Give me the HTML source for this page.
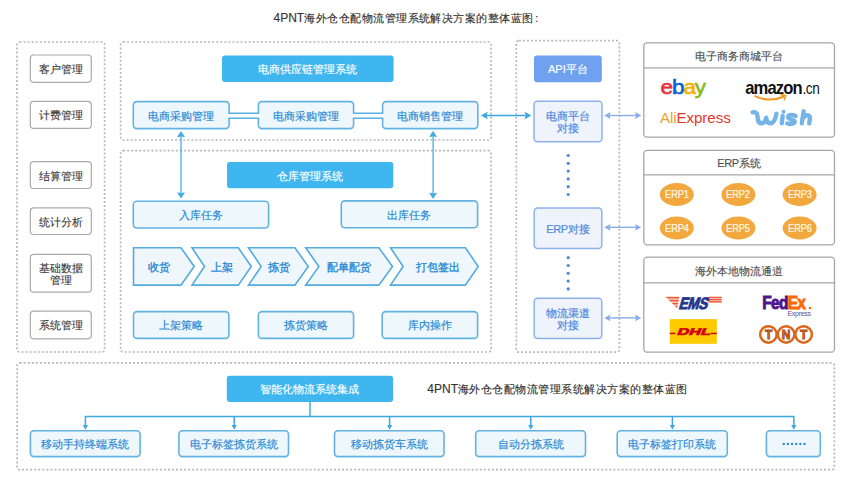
<!DOCTYPE html>
<html><head><meta charset="utf-8">
<style>
html,body{margin:0;padding:0;background:#fff;}
body{width:850px;height:481px;position:relative;overflow:hidden;font-family:"Liberation Sans",sans-serif;}
.a{position:absolute;box-sizing:border-box;display:flex;align-items:center;justify-content:center;text-align:center;white-space:nowrap;font-size:11px;line-height:13px;padding-top:2px;}
.g{color:#3a3a3a;-webkit-text-stroke:0.12px #3a3a3a;}
.b{color:#2a8ad4;-webkit-text-stroke:0.18px #2a8ad4;}
.h{color:#fff;-webkit-text-stroke:0.15px #fff;}
.p{color:#5189de;line-height:12.5px;-webkit-text-stroke:0.2px #5189de;}
.t{position:absolute;white-space:nowrap;}
.hd{text-align:center;color:#505050;font-size:11px;line-height:14px;-webkit-text-stroke:0.15px #505050;}
.erp{width:40px;text-align:center;color:#fffaf0;font-size:10.8px;line-height:14px;letter-spacing:-0.1px;transform:scaleX(0.86);-webkit-text-stroke:0.2px #fffaf0;}
.ct{text-align:center;color:#2a8ad4;font-size:11px;line-height:16px;-webkit-text-stroke:0.35px #2a8ad4;}
.ttl{font-size:11px;color:#333;line-height:14px;-webkit-text-stroke:0.15px #333;}
svg{position:absolute;left:0;top:0;}
</style></head><body>
<svg width="850" height="481" viewBox="0 0 850 481">
<g fill="none" stroke="#b8b8b8" stroke-width="1.7" stroke-dasharray="2 2.05">
<rect x="17" y="42" width="87.6" height="310" rx="2.5"/>
<rect x="120.6" y="42" width="370.5" height="98" rx="2.5"/>
<rect x="120.6" y="150.7" width="370.5" height="201.3" rx="2.5"/>
<rect x="516.3" y="40.6" width="103.1" height="311.6" rx="2.5"/>
<rect x="17.1" y="362.9" width="817.2" height="106.8" rx="2.5"/>
</g></svg>
<svg width="850" height="481" viewBox="0 0 850 481"><rect x="30.3" y="55" width="61" height="27.3" rx="3.5" fill="#fff" stroke="#aaaaaa" stroke-width="1.2"/><rect x="30.3" y="101.3" width="61" height="27.1" rx="3.5" fill="#fff" stroke="#aaaaaa" stroke-width="1.2"/><rect x="30.3" y="161.6" width="61" height="26.9" rx="3.5" fill="#fff" stroke="#aaaaaa" stroke-width="1.2"/><rect x="30.3" y="207.9" width="61" height="26.6" rx="3.5" fill="#fff" stroke="#aaaaaa" stroke-width="1.2"/><rect x="30.3" y="311.2" width="61" height="27.6" rx="3.5" fill="#fff" stroke="#aaaaaa" stroke-width="1.2"/><rect x="30.3" y="254.3" width="61" height="37.9" rx="3.5" fill="#fff" stroke="#aaaaaa" stroke-width="1.2"/><rect x="222" y="55.5" width="171.6" height="26.5" rx="3" fill="#3fb6ef"/><rect x="133.3" y="101.6" width="95.8" height="27" rx="3.5" fill="#eef7fc" stroke="#62b3df" stroke-width="1.6"/><rect x="258.4" y="101.6" width="95.2" height="27" rx="3.5" fill="#eef7fc" stroke="#62b3df" stroke-width="1.6"/><rect x="382.6" y="101.6" width="95.2" height="27" rx="3.5" fill="#eef7fc" stroke="#62b3df" stroke-width="1.6"/><rect x="227" y="162" width="166.3" height="26.3" rx="3" fill="#3fb6ef"/><rect x="133.3" y="201.2" width="135.3" height="26.8" rx="3.5" fill="#eef7fc" stroke="#62b3df" stroke-width="1.6"/><rect x="341.3" y="200.9" width="136.3" height="26.9" rx="3.5" fill="#eef7fc" stroke="#62b3df" stroke-width="1.6"/><rect x="133.5" y="311.6" width="95.4" height="26.8" rx="3.5" fill="#eef7fc" stroke="#62b3df" stroke-width="1.6"/><rect x="258.4" y="311.6" width="95.2" height="26.8" rx="3.5" fill="#eef7fc" stroke="#62b3df" stroke-width="1.6"/><rect x="382.2" y="311.6" width="95.4" height="26.8" rx="3.5" fill="#eef7fc" stroke="#62b3df" stroke-width="1.6"/><rect x="534" y="55.5" width="67.8" height="26.8" rx="3" fill="#6fa1f0"/><rect x="534" y="101.2" width="68" height="40.6" rx="3.5" fill="#eef3fc" stroke="#8cb1ec" stroke-width="1.5"/><rect x="534.2" y="207.9" width="67.6" height="40.7" rx="3.5" fill="#eef3fc" stroke="#8cb1ec" stroke-width="1.5"/><rect x="534.2" y="298.2" width="67.6" height="40.4" rx="3.5" fill="#eef3fc" stroke="#8cb1ec" stroke-width="1.5"/><rect x="226.8" y="375.8" width="166.3" height="26.3" rx="3" fill="#3fb6ef"/><rect x="30.4" y="430.7" width="109.7" height="25.9" rx="3.5" fill="#eef7fc" stroke="#62b3df" stroke-width="1.6"/><rect x="178.9" y="430.7" width="109.6" height="25.9" rx="3.5" fill="#eef7fc" stroke="#62b3df" stroke-width="1.6"/><rect x="334.5" y="430.7" width="109.5" height="25.9" rx="3.5" fill="#eef7fc" stroke="#62b3df" stroke-width="1.6"/><rect x="475.7" y="430.7" width="109.8" height="25.9" rx="3.5" fill="#eef7fc" stroke="#62b3df" stroke-width="1.6"/><rect x="617.2" y="430.7" width="110.1" height="25.9" rx="3.5" fill="#eef7fc" stroke="#62b3df" stroke-width="1.6"/><rect x="766.4" y="430.7" width="53.9" height="25.9" rx="3.5" fill="#eef7fc" stroke="#62b3df" stroke-width="1.6"/></svg>
<div class="t ttl" style="left:273.5px;top:11.3px;"><span style="font-size:12px">4PNT</span><span style="letter-spacing:0.48px">海外仓仓配物流管理系统解决方案的整体蓝图</span><span style="margin-left:1.5px">:</span></div>
<svg width="850" height="481" viewBox="0 0 850 481">
<rect x="227.4" y="113.3" width="32.7" height="5" fill="#fafdfe"/>
<path d="M228.4,113.3 H259.1 M228.4,118.3 H259.1" stroke="#5ab1e1" stroke-width="1.5" fill="none"/>
<rect x="351.9" y="113.3" width="32.4" height="5" fill="#fafdfe"/>
<path d="M352.9,113.3 H383.3 M352.9,118.3 H383.3" stroke="#5ab1e1" stroke-width="1.5" fill="none"/>
<line x1="181" y1="136.7" x2="181" y2="192.8" stroke="#45ade4" stroke-width="1.3"/><path d="M181,198.6 L177,192.4 L181,192.8 L185,192.4 Z" fill="#45ade4"/><path d="M181,130.9 L177,137.1 L181,136.7 L185,137.1 Z" fill="#45ade4"/>
<line x1="433.1" y1="136.5" x2="433.1" y2="193.2" stroke="#45ade4" stroke-width="1.3"/><path d="M433.1,199 L429.1,192.8 L433.1,193.2 L437.1,192.8 Z" fill="#45ade4"/><path d="M433.1,130.7 L429.1,136.9 L433.1,136.5 L437.1,136.9 Z" fill="#45ade4"/>
<line x1="486.7" y1="115.5" x2="525.6" y2="115.5" stroke="#3aa6e3" stroke-width="1.4"/><path d="M531.4,115.5 L524.6,111.8 L525.6,115.5 L524.6,119.2 Z" fill="#3aa6e3"/><path d="M480.9,115.5 L487.7,111.8 L486.7,115.5 L487.7,119.2 Z" fill="#3aa6e3"/>
<line x1="609.6" y1="115.5" x2="636" y2="115.5" stroke="#88ade9" stroke-width="1.4"/><path d="M641.3,115.5 L635.1,112.1 L636,115.5 L635.1,118.9 Z" fill="#88ade9"/><path d="M604.3,115.5 L610.5,112.1 L609.6,115.5 L610.5,118.9 Z" fill="#88ade9"/>
<line x1="609.6" y1="227.3" x2="636" y2="227.3" stroke="#88ade9" stroke-width="1.4"/><path d="M641.3,227.3 L635.1,223.9 L636,227.3 L635.1,230.7 Z" fill="#88ade9"/><path d="M604.3,227.3 L610.5,223.9 L609.6,227.3 L610.5,230.7 Z" fill="#88ade9"/>
<line x1="609.6" y1="317.9" x2="636" y2="317.9" stroke="#88ade9" stroke-width="1.4"/><path d="M641.3,317.9 L635.1,314.5 L636,317.9 L635.1,321.3 Z" fill="#88ade9"/><path d="M604.3,317.9 L610.5,314.5 L609.6,317.9 L610.5,321.3 Z" fill="#88ade9"/>
<path d="M133.5,247.8 H181 L194.2,266.45 L181,285.1 H133.5 Z" fill="#eff7fc" stroke="#52ace0" stroke-width="1.6"/>
<path d="M192,247.8 H238.3 L251.3,266.45 L238.3,285.1 H192 L204.5,266.45 Z" fill="#eff7fc" stroke="#52ace0" stroke-width="1.6"/>
<path d="M248.5,247.8 H294.9 L308.3,266.45 L294.9,285.1 H248.5 L261.2,266.45 Z" fill="#eff7fc" stroke="#52ace0" stroke-width="1.6"/>
<path d="M305.7,247.8 H378.9 L392.5,266.45 L378.9,285.1 H305.7 L318.9,266.45 Z" fill="#eff7fc" stroke="#52ace0" stroke-width="1.6"/>
<path d="M390.5,247.8 H465.4 L478.2,266.45 L465.4,285.1 H390.5 L403.1,266.45 Z" fill="#eff7fc" stroke="#52ace0" stroke-width="1.6"/>
</svg>
<div class="t ct" style="left:118.6px;width:80px;top:259.45px;">收货</div>
<div class="t ct" style="left:182.4px;width:80px;top:259.45px;">上架</div>
<div class="t ct" style="left:238.7px;width:80px;top:259.45px;">拣货</div>
<div class="t ct" style="left:308.7px;width:80px;top:259.45px;">配单配货</div>
<div class="t ct" style="left:398.2px;width:80px;top:259.45px;">打包签出</div>
<svg width="850" height="481" viewBox="0 0 850 481">
<g fill="#4d86e0">
<circle cx="568.2" cy="155.5" r="1.6"/>
<circle cx="568.2" cy="163.3" r="1.6"/>
<circle cx="568.2" cy="171.1" r="1.6"/>
<circle cx="568.2" cy="178.9" r="1.6"/>
<circle cx="568.2" cy="186.7" r="1.6"/>
<circle cx="568.2" cy="194.5" r="1.6"/>
<circle cx="568.2" cy="257.7" r="1.6"/>
<circle cx="568.2" cy="265.5" r="1.6"/>
<circle cx="568.2" cy="273.3" r="1.6"/>
<circle cx="568.2" cy="281.1" r="1.6"/>
<circle cx="568.2" cy="288.9" r="1.6"/>
</g>
<g fill="#fff" stroke="#a6a6a6" stroke-width="1.3">
<rect x="643.8" y="42.8" width="190.7" height="94.4" rx="3.5"/>
<rect x="643.8" y="150.4" width="190.7" height="94.4" rx="3.5"/>
<rect x="643.8" y="257.2" width="190.7" height="95" rx="3.5"/>
</g><g stroke="#a6a6a6" stroke-width="1.3">
<line x1="643.8" y1="67.9" x2="834.5" y2="67.9"/>
<line x1="643.8" y1="174.9" x2="834.5" y2="174.9"/>
<line x1="643.8" y1="282.9" x2="834.5" y2="282.9"/>
</g><g fill="#f2a83c">
<ellipse cx="676.8" cy="194.5" rx="17" ry="11.4"/>
<ellipse cx="738.4" cy="194.5" rx="17" ry="11.4"/>
<ellipse cx="799.6" cy="194.5" rx="17" ry="11.4"/>
<ellipse cx="676.8" cy="228" rx="17" ry="11.4"/>
<ellipse cx="738.4" cy="228" rx="17" ry="11.4"/>
<ellipse cx="799.6" cy="228" rx="17" ry="11.4"/>
</g></svg>
<div class="t hd" style="left:644px;width:190px;top:48.6px;">电子商务商城平台</div>
<div class="t hd" style="left:644px;width:190px;top:155.6px;"><span style="letter-spacing:-0.4px">ERP</span>系统</div>
<div class="t hd" style="left:644px;width:190px;top:263.6px;">海外本地物流通道</div>
<div class="t erp" style="left:656.8px;top:187.2px;">ERP1</div>
<div class="t erp" style="left:718.4px;top:187.2px;">ERP2</div>
<div class="t erp" style="left:779.6px;top:187.2px;">ERP3</div>
<div class="t erp" style="left:656.8px;top:220.7px;">ERP4</div>
<div class="t erp" style="left:718.4px;top:220.7px;">ERP5</div>
<div class="t erp" style="left:779.6px;top:220.7px;">ERP6</div>
<div class="t ttl" style="left:427.3px;top:382.1px;"><span style="font-size:12px">4PNT</span><span style="letter-spacing:0.48px">海外仓仓配物流管理系统解决方案的整体蓝图</span></div>
<svg width="850" height="481" viewBox="0 0 850 481">
<g stroke="#3ca8e2" stroke-width="1.5" fill="none">
<path d="M310,402 V416.6"/>
<path d="M85.4,426 V416.6 H793.8 V426"/>
<path d="M234.2,416.6 V426"/><path d="M389.6,416.6 V426"/><path d="M530.8,416.6 V426"/><path d="M672.4,416.6 V426"/>
</g><g fill="#3ca8e2">
<path d="M85.4,429.7 l-2.6,-4.6 h5.2 z"/>
<path d="M234.2,429.7 l-2.6,-4.6 h5.2 z"/>
<path d="M389.6,429.7 l-2.6,-4.6 h5.2 z"/>
<path d="M530.8,429.7 l-2.6,-4.6 h5.2 z"/>
<path d="M672.4,429.7 l-2.6,-4.6 h5.2 z"/>
<path d="M793.8,429.7 l-2.6,-4.6 h5.2 z"/>
</g></svg>
<svg width="850" height="481" viewBox="0 0 850 481"><g fill="#2a8ad4"><rect x="782.7" y="442.9" width="2.1" height="2.1"/><rect x="786.85" y="442.9" width="2.1" height="2.1"/><rect x="791" y="442.9" width="2.1" height="2.1"/><rect x="795.15" y="442.9" width="2.1" height="2.1"/><rect x="799.3" y="442.9" width="2.1" height="2.1"/><rect x="803.45" y="442.9" width="2.1" height="2.1"/></g></svg>
<svg width="850" height="481" viewBox="0 0 850 481" style="font-family:'Liberation Sans',sans-serif;">
<!-- ebay -->
<g transform="translate(660.5,94.3) scale(1.1,1)" font-size="20.5" letter-spacing="-1" stroke-width="0.6">
<text x="0" y="0"><tspan fill="#e53238" stroke="#e53238">e</tspan><tspan fill="#0064d2" stroke="#0064d2">b</tspan><tspan fill="#f5af02" stroke="#f5af02">a</tspan><tspan fill="#86b817" stroke="#86b817">y</tspan></text>
</g>
<!-- amazon -->
<g transform="translate(745.2,94.3) scale(0.95,1)">
<text x="0" y="0" font-size="17.5" font-weight="bold" letter-spacing="-0.9" fill="#111">amazon</text>
</g>
<g transform="translate(802.5,94.3) scale(0.8,1)">
<text x="0" y="0" font-size="17" fill="#111" letter-spacing="-0.5">.cn</text>
</g>
<path d="M754.5,95.8 Q769,103 784,96.5" fill="none" stroke="#f39a1e" stroke-width="2"/>
<path d="M780.5,94.6 L785.6,95.6 L784.2,100.2" fill="none" stroke="#f39a1e" stroke-width="1.6"/>
<!-- AliExpress -->
<text x="659.9" y="122.8" font-size="15.2" letter-spacing="-0.1"><tspan fill="#f0a030">Ali</tspan><tspan fill="#df3a2c">Express</tspan></text>
<!-- wish -->
<g fill="none" stroke="#74b4e6" stroke-width="4.4" stroke-linecap="round" stroke-linejoin="round">
<path d="M752.6,112.3 Q756.6,111.4 757.4,115.5 L758,120 Q758.8,123.6 762.2,123.2 Q765.4,122.6 766.2,117.6 Q766.8,123.4 770.4,123.3 Q775,122.8 776.4,113.6"/>
<path d="M782.6,116 L781.8,123.2"/>
<path d="M795.6,116 Q791.5,114 788.8,115.6 Q786.6,117.8 790.6,119.2 Q795.2,120.6 794.6,122.6 Q792.6,124.8 787.2,123.4"/>
<path d="M803.6,111.2 L801.8,123.4 M802.4,119 Q804.6,115.2 807.6,115.2 Q810.4,115.6 809.9,118.6 L809.2,123.4"/>
</g>
<circle cx="783.5" cy="111.8" r="2" fill="#74b4e6"/>
<!-- EMS -->
<defs><clipPath id="wedge"><path d="M665.3,296.6 H679.5 L677.2,308.4 Z"/></clipPath></defs>
<g fill="#ea5b3c" clip-path="url(#wedge)">
<rect x="664" y="296.6" width="16" height="2"/>
<rect x="664" y="299.6" width="16" height="2"/>
<rect x="664" y="302.6" width="16" height="2"/>
<rect x="664" y="305.6" width="16" height="2"/>
</g>
<g fill="#ea5b3c">
<rect x="708.3" y="296.7" width="13.4" height="1.6"/>
<rect x="708.3" y="298.9" width="13.4" height="1.6"/>
<rect x="708.3" y="301.1" width="13.4" height="1.5"/>
</g>
<g transform="translate(678.2,308.7) skewX(-16) scale(0.82,1)">
<text x="0" y="0" font-size="16.6" font-weight="bold" fill="#25338c" letter-spacing="-0.3" stroke="#25338c" stroke-width="0.9">EMS</text>
</g>
<!-- DHL -->
<rect x="669.8" y="319.1" width="47" height="24.7" fill="#fecb00"/>
<g fill="#d40511">
<rect x="669.8" y="332.7" width="5.6" height="1.5"/>
<rect x="710.6" y="332.7" width="6.2" height="1.5"/>
</g>
<g transform="translate(676.6,335.2) skewX(-22) scale(1.68,1)">
<text x="0" y="0" font-size="9.6" font-weight="bold" fill="#d40511" letter-spacing="0" stroke="#d40511" stroke-width="0.7">DHL</text>
</g>
<!-- FedEx -->
<g transform="translate(762.3,309.4) scale(0.86,1)">
<text x="0" y="0" font-size="18" font-weight="bold" letter-spacing="-0.8" stroke-width="0.9"><tspan fill="#4d148c" stroke="#4d148c">Fed</tspan><tspan fill="#ff6600" stroke="#ff6600">Ex</tspan></text>
</g>
<circle cx="810" cy="308" r="1.3" fill="#ff6600"/>
<text x="787.5" y="316.3" font-size="7" fill="#5b4e99" letter-spacing="-0.3">Express</text>
<!-- TNT -->
<g>
<circle cx="768.4" cy="334.4" r="9.5" fill="#dc6518"/>
<circle cx="786.1" cy="334.4" r="9.5" fill="#dc6518"/>
<circle cx="803.6" cy="334.4" r="9.5" fill="#dc6518"/>
<circle cx="768.4" cy="334.4" r="7" fill="#fff"/>
<circle cx="786.1" cy="334.4" r="7" fill="#fff"/>
<circle cx="803.6" cy="334.4" r="7" fill="#fff"/>
<g font-size="12" font-weight="bold" fill="#e8711d" stroke="#a84810" stroke-width="0.8" text-anchor="middle">
<text x="768.6" y="338.8">T</text><text x="786.2" y="338.8">N</text><text x="803.7" y="338.8">T</text>
</g>
</g>

</svg>
<div class="a g" style="left:30.3px;top:55px;width:61px;height:27.3px;">客户管理</div>
<div class="a g" style="left:30.3px;top:101.3px;width:61px;height:27.1px;">计费管理</div>
<div class="a g" style="left:30.3px;top:161.6px;width:61px;height:26.9px;">结算管理</div>
<div class="a g" style="left:30.3px;top:207.9px;width:61px;height:26.6px;">统计分析</div>
<div class="a g" style="left:30.3px;top:311.2px;width:61px;height:27.6px;">系统管理</div>
<div class="a g" style="left:30.3px;top:254.3px;width:61px;height:37.9px;line-height:12.4px;">基础数据<br>管理</div>
<div class="a h" style="left:222px;top:55.5px;width:171.6px;height:26.5px;">电商供应链管理系统</div>
<div class="a b" style="left:133.3px;top:101.6px;width:95.8px;height:27px;">电商采购管理</div>
<div class="a b" style="left:258.4px;top:101.6px;width:95.2px;height:27px;">电商采购管理</div>
<div class="a b" style="left:382.6px;top:101.6px;width:95.2px;height:27px;">电商销售管理</div>
<div class="a h" style="left:227px;top:162px;width:166.3px;height:26.3px;">仓库管理系统</div>
<div class="a b" style="left:133.3px;top:201.2px;width:135.3px;height:26.8px;">入库任务</div>
<div class="a b" style="left:341.3px;top:200.9px;width:136.3px;height:26.9px;">出库任务</div>
<div class="a b" style="left:133.5px;top:311.6px;width:95.4px;height:26.8px;">上架策略</div>
<div class="a b" style="left:258.4px;top:311.6px;width:95.2px;height:26.8px;">拣货策略</div>
<div class="a b" style="left:382.2px;top:311.6px;width:95.4px;height:26.8px;">库内操作</div>
<div class="a h" style="left:534px;top:55.5px;width:67.8px;height:26.8px;">API平台</div>
<div class="a p" style="left:534px;top:101.2px;width:68px;height:40.6px;">电商平台<br>对接</div>
<div class="a p" style="left:534.2px;top:207.9px;width:67.6px;height:40.7px;"><span style="letter-spacing:-0.4px">ERP</span>对接</div>
<div class="a p" style="left:534.2px;top:298.2px;width:67.6px;height:40.4px;">物流渠道<br>对接</div>
<div class="a h" style="left:226.8px;top:375.8px;width:166.3px;height:26.3px;">智能化物流系统集成</div>
<div class="a b" style="left:30.4px;top:430.7px;width:109.7px;height:25.9px;">移动手持终端系统</div>
<div class="a b" style="left:178.9px;top:430.7px;width:109.6px;height:25.9px;">电子标签拣货系统</div>
<div class="a b" style="left:334.5px;top:430.7px;width:109.5px;height:25.9px;">移动拣货车系统</div>
<div class="a b" style="left:475.7px;top:430.7px;width:109.8px;height:25.9px;">自动分拣系统</div>
<div class="a b" style="left:617.2px;top:430.7px;width:110.1px;height:25.9px;">电子标签打印系统</div>
</body></html>
